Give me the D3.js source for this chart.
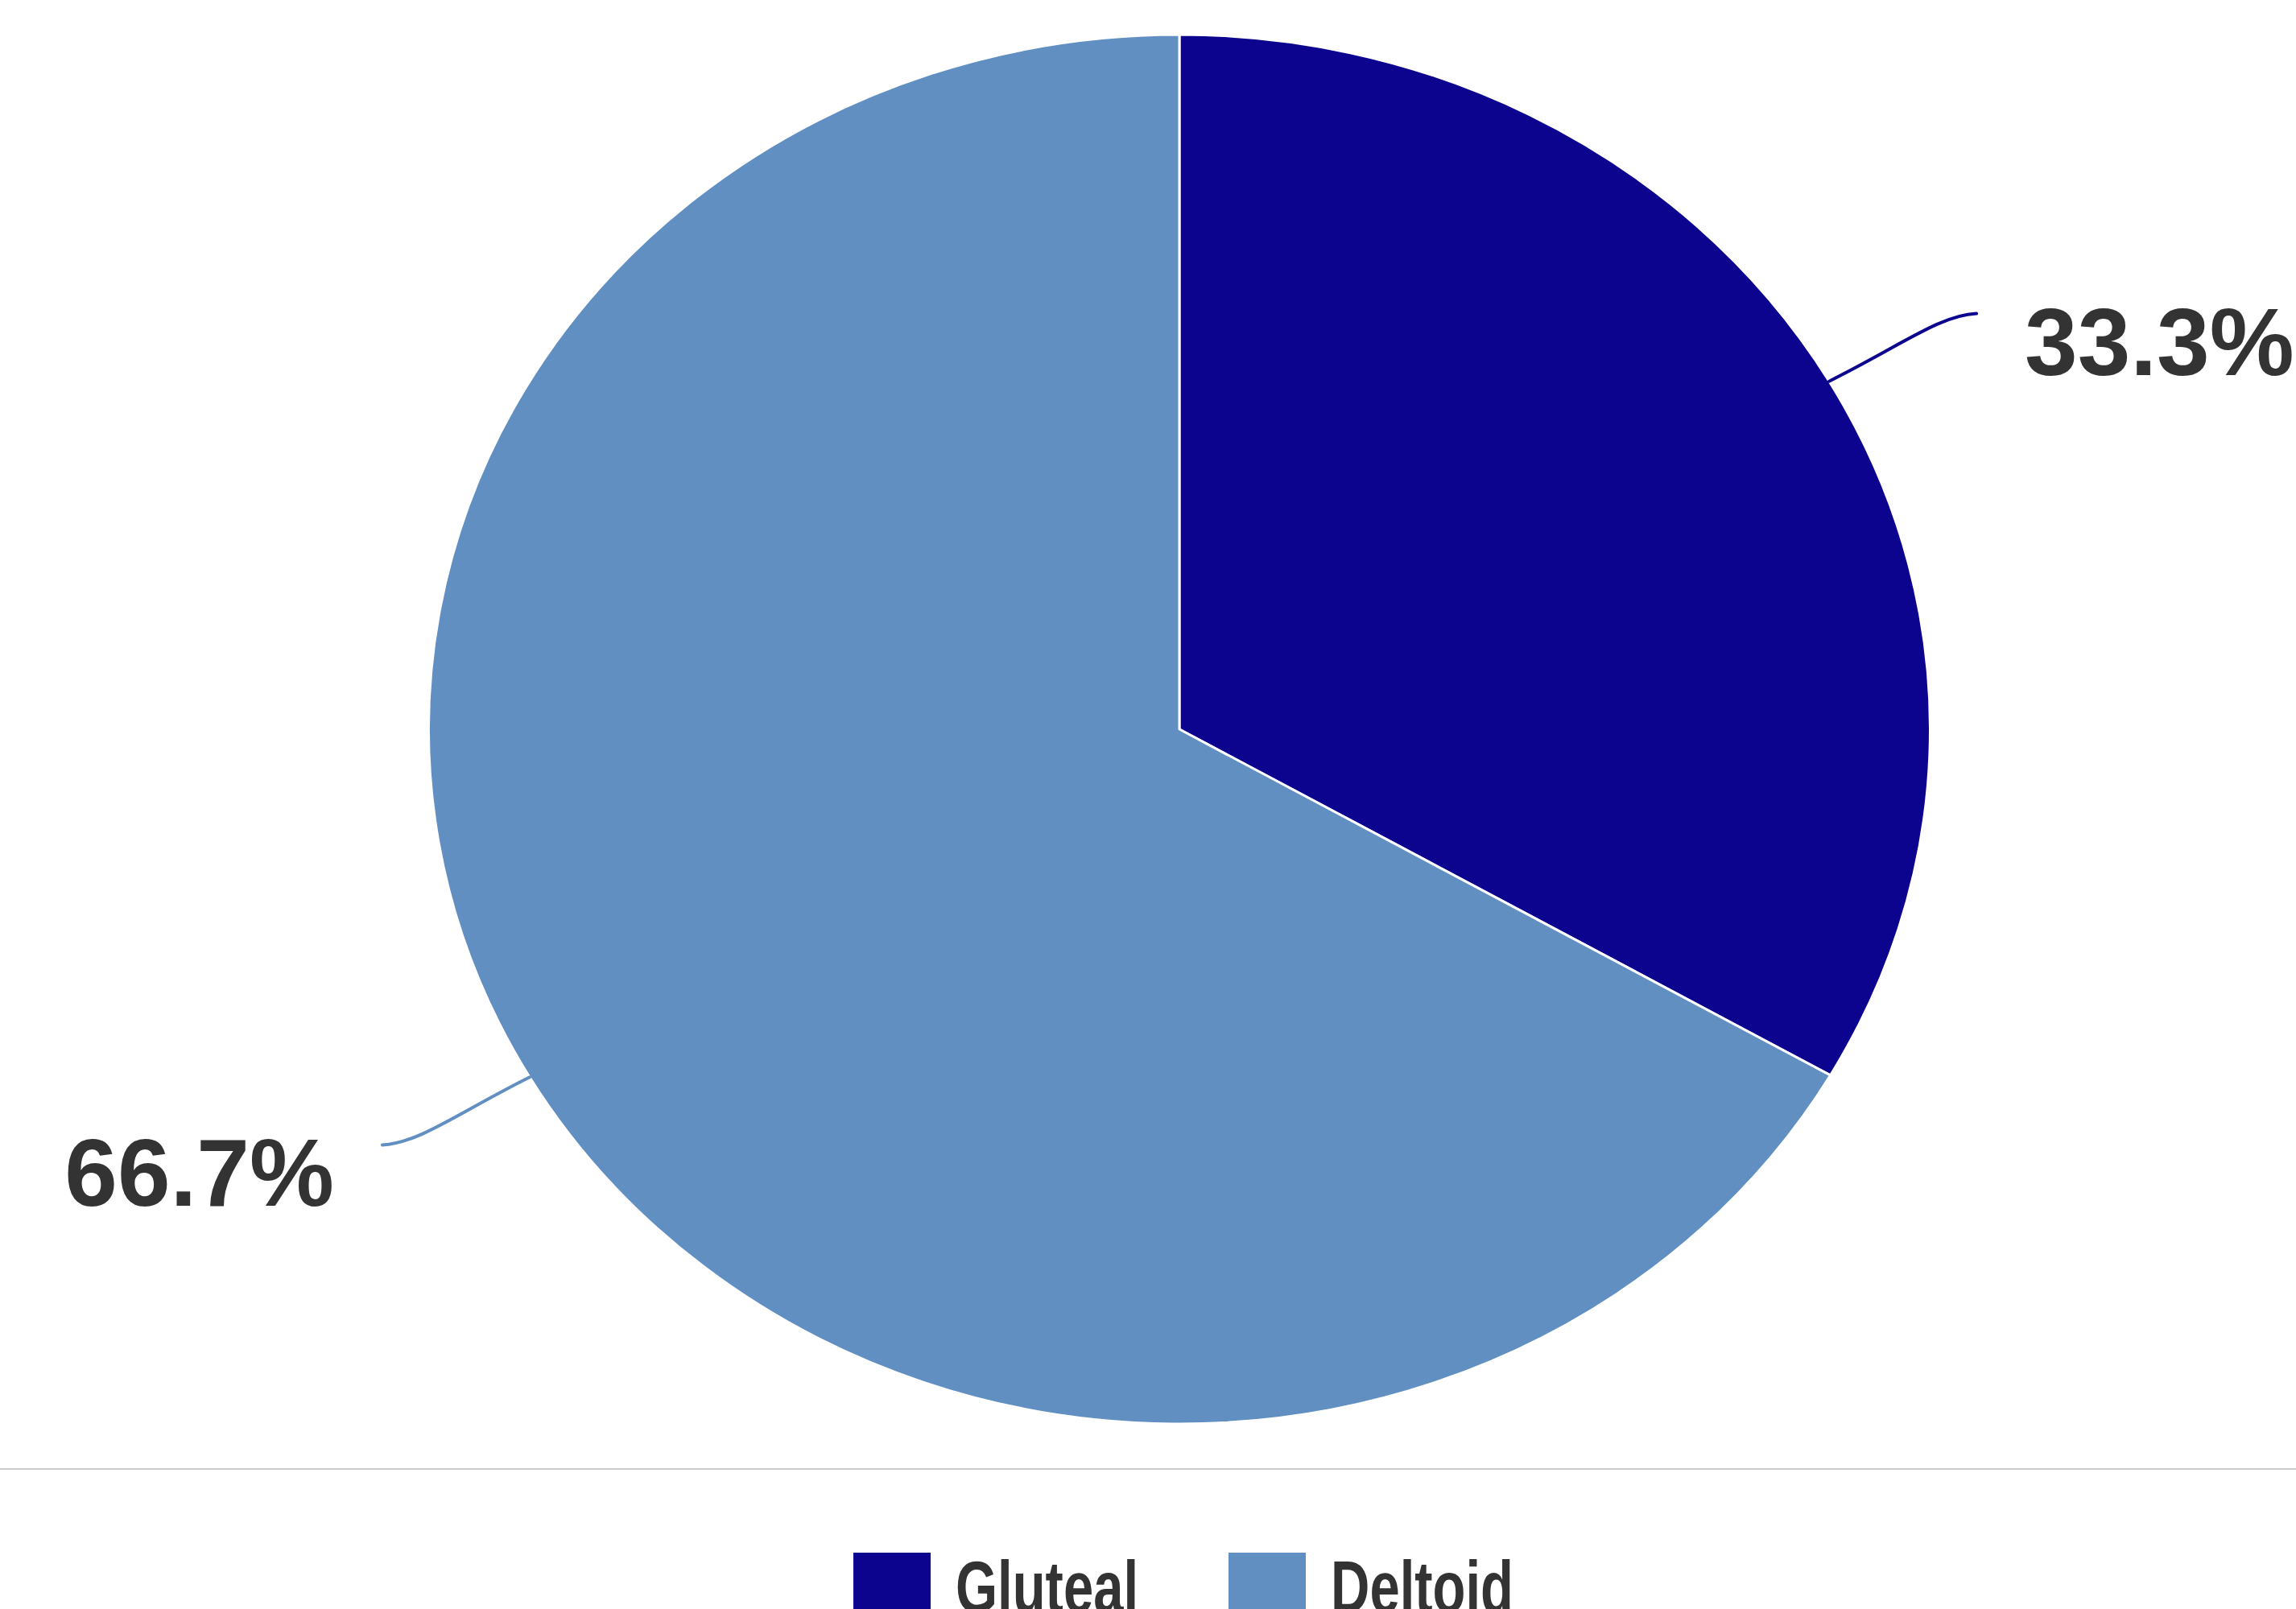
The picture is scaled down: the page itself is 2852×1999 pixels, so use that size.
<!DOCTYPE html>
<html>
<head>
<meta charset="utf-8">
<script src="https://cdn.jsdelivr.net/npm/d3@7"></script>
<style>
  html, body { margin: 0; padding: 0; background: #ffffff; overflow: hidden; }
  svg { display: block; }
</style>
</head>
<body>
<svg id="chart" width="2852" height="1999"></svg>
<script>
// ---- data ----
const categories = ["Gluteal", "Deltoid"];
const values = [33.3, 66.7];
const labels = ["33.3%", "66.7%"];
const colors = ["#0c038e", "#618fc2"];

// ---- layout ----
const W = 2852, H = 1999;
const cx = 1465, cy = 906;
const ry = 863, rx = 932.5;
const sx = rx / ry;

const svg = d3.select("#chart");
svg.append("rect").attr("width", W).attr("height", H).attr("fill", "#fff");

const pie = d3.pie().sort(null).value(d => d.v).startAngle(0).endAngle(2 * Math.PI);
const data = categories.map((c, i) => ({ c, v: values[i], label: labels[i], color: colors[i] }));
const arcs = pie(data);

const arc = d3.arc().innerRadius(0).outerRadius(ry);

const g = svg.append("g").attr("transform", `translate(${cx},${cy}) scale(${sx},1)`);
g.selectAll("path.slice")
  .data(arcs)
  .join("path")
  .attr("class", "slice")
  .attr("d", arc)
  .attr("fill", d => d.data.color)
  .attr("stroke", "#ffffff")
  .attr("stroke-width", 3)
  .attr("vector-effect", "non-scaling-stroke")
  .attr("stroke-linejoin", "round");

// ---- leaders + labels ----
const lg = svg.append("g");
arcs.forEach(d => {
  const a = (d.startAngle + d.endAngle) / 2;
  const s = Math.sin(a) >= 0 ? 1 : -1;
  const p0 = [cx + Math.sin(a) * rx, cy - Math.cos(a) * ry];
  const p3 = [p0[0] + s * 183, p0[1] - Math.cos(a) * 168];
  const p1 = [p0[0] + s * 90, p0[1] - Math.cos(a) * 90];
  const p2 = [p3[0] - s * 45, p3[1] + Math.cos(a) * 4];
  const path = d3.path();
  path.moveTo(p0[0], p0[1]);
  path.bezierCurveTo(p1[0], p1[1], p2[0], p2[1], p3[0], p3[1]);
  lg.append("path")
    .attr("d", path.toString())
    .attr("fill", "none")
    .attr("stroke", d.data.color)
    .attr("stroke-width", 4)
    .attr("stroke-linecap", "round");
  lg.append("text")
    .attr("x", p3[0] + s * 60)
    .attr("y", p3[1] + 76)
    .attr("text-anchor", s > 0 ? "start" : "end")
    .attr("font-family", "'Liberation Sans', Arial, sans-serif")
    .attr("font-weight", "bold")
    .attr("font-size", 118)
    .attr("fill", "#333333")
    .text(d.data.label);
});

// ---- separator ----
svg.append("line")
  .attr("x1", 0).attr("x2", W)
  .attr("y1", 1825).attr("y2", 1825)
  .attr("stroke", "#cccccc")
  .attr("stroke-width", 2);

// ---- legend ----
const legendX = d3.scalePoint().domain(categories).range([1060, 1526]);
const leg = svg.append("g");
categories.forEach((c, i) => {
  const x = legendX(c);
  leg.append("rect")
    .attr("x", x).attr("y", 1929)
    .attr("width", 96).attr("height", 96)
    .attr("fill", colors[i]);
  leg.append("text")
    .attr("x", x + 127)
    .attr("y", 2003)
    .attr("font-family", "'Liberation Sans', Arial, sans-serif")
    .attr("font-weight", "bold")
    .attr("font-size", 90)
    .attr("textLength", 227)
    .attr("lengthAdjust", "spacingAndGlyphs")
    .attr("fill", "#333333")
    .text(c);
});
</script>
</body>
</html>
